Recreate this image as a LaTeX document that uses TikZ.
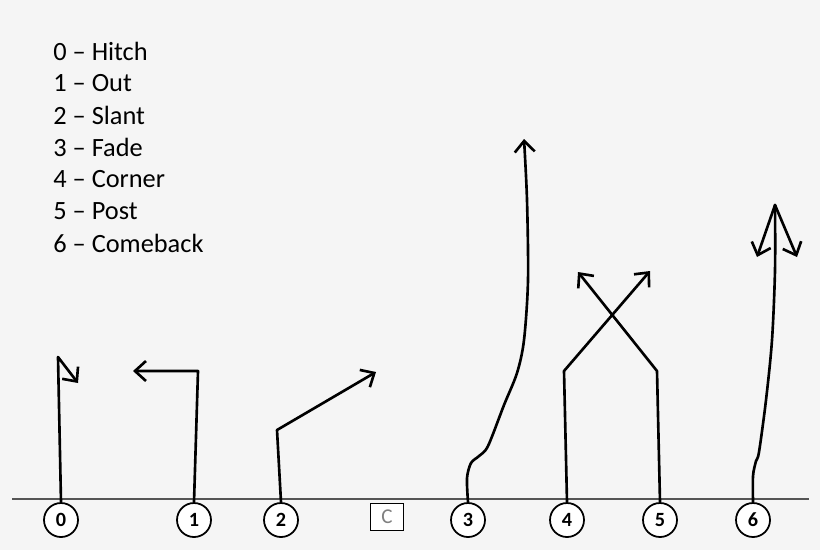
\documentclass[tikz,border=0pt]{standalone}
\usepackage{fontspec}
\setmainfont{Carlito}
\usetikzlibrary{arrows.meta}
\definecolor{paper}{HTML}{F5F5F5}
\definecolor{losgray}{HTML}{555555}
\begin{document}
\begin{tikzpicture}[x=0.2mm, y=0.2mm]
	\tikzstyle{every node}+=[inner sep=0pt]
	\tikzstyle{player}=[draw=black, circle, line width=1pt, minimum size=6.8mm, fill=white, font=\fontsize{11.5}{13}\selectfont\bfseries]
	\tikzstyle{center}=[draw=black, line width=0.8pt, minimum width=6.6mm, minimum height=5.4mm, fill=white, text=black!50, font=\fontsize{12}{14}\selectfont]
	\tikzstyle{route}=[black, line width=1.5pt, line cap=round, line join=round]
	\tikzstyle{tip}=[-{Straight Barb[length=2.2mm,width=4mm,line width=1.5pt]}]
	\tikzstyle{legend}=[anchor=west, font=\fontsize{15}{17}\selectfont]
	% background and page size
	\fill [paper] (0,0) rectangle (820,-550);
	\useasboundingbox (0,0) rectangle (820,-550);
	% legend
	\node [legend] (l0) at (53,-51) {0 -- Hitch};
	\node [legend] (l1) at (53,-83) {1 -- Out};
	\node [legend] (l2) at (53,-115) {2 -- Slant};
	\node [legend] (l3) at (53,-147) {3 -- Fade};
	\node [legend] (l4) at (53,-179) {4 -- Corner};
	\node [legend] (l5) at (53,-211) {5 -- Post};
	\node [legend] (l6) at (53,-243) {6 -- Comeback};
	% line of scrimmage
	\draw [losgray, line width=0.6pt] (12,-499) -- (809,-499);
	% players
	\node [player] (p0) at (61,-520) {0};
	\node [player] (p1) at (194,-520) {1};
	\node [player] (p2) at (281,-520) {2};
	\node [center] (c) at (387,-517) {C};
	\node [player] (p3) at (468,-520) {3};
	\node [player] (p4) at (567,-520) {4};
	\node [player] (p5) at (660,-520) {5};
	\node [player] (p6) at (753,-520) {6};
	% route ends
	\coordinate (e0) at (78,-383);
	\coordinate (e1) at (133,-371);
	\coordinate (e2) at (376,-372);
	\coordinate (e3) at (524,-139);
	\coordinate (e4) at (650,-271);
	\coordinate (e5) at (578,-272);
	\coordinate (t6) at (775,-205);
	\coordinate (e6a) at (757,-257);
	\coordinate (e6b) at (797,-257);
	% routes
	\draw [route,tip] (p0.north) -- (58,-357) -- (e0);
	\draw [route,tip] (p1.north) -- (198,-371) -- (e1);
	\draw [route,tip] (p2.north) -- (277,-430) -- (e2);
	\draw [route,tip] plot [smooth, tension=0.5] coordinates {(p3.north) (467,-478) (471,-463) (479,-456) (488,-446) (504,-405) (517,-373) (524,-340) (528,-280) (527,-200) (e3)};
	\draw [route,tip] (p4.north) -- (564,-371) -- (e4);
	\draw [route,tip] (p5.north) -- (657,-371) -- (e5);
	\draw [route] plot [smooth, tension=0.5] coordinates {(p6.north) (753,-476) (756,-461) (759,-452) (766,-400) (772,-340) (775,-270) (t6)};
	\draw [route,tip] (t6) -- (e6a);
	\draw [route,tip] (t6) -- (e6b);
\end{tikzpicture}
\end{document}
